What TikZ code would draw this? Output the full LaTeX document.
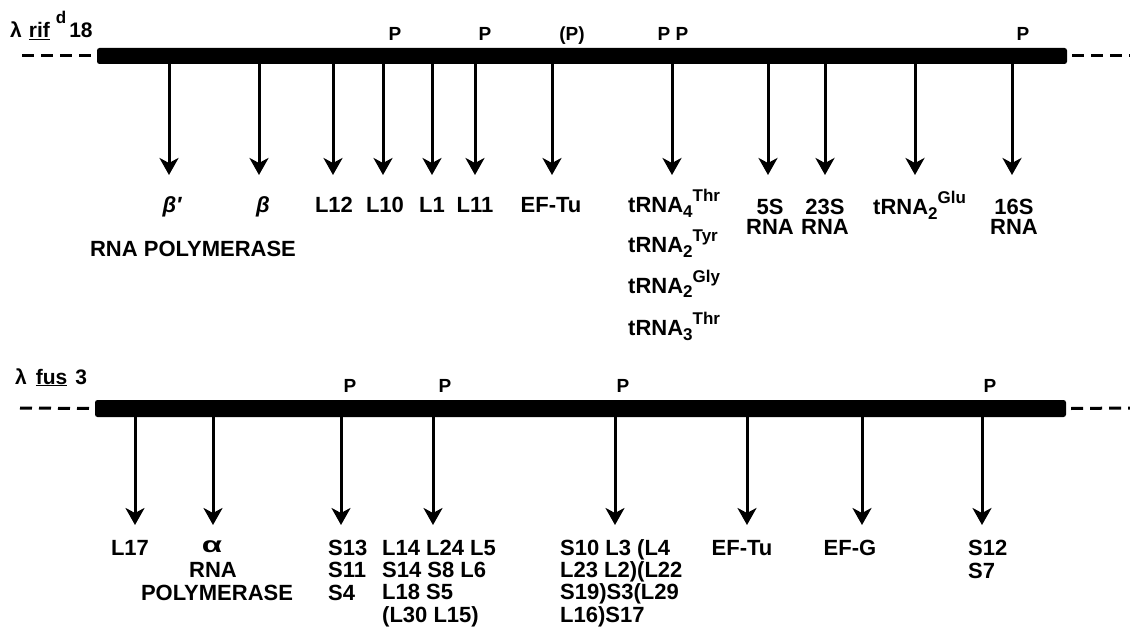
\documentclass[tikz,border=0pt]{standalone}
\usepackage{fontspec}
\usepackage{graphicx}
\setmainfont{Liberation Sans}
\usetikzlibrary{arrows.meta}
\newcommand\trnalab[2]{tRNA\raisebox{-5pt}{\fontsize{17}{17}\selectfont #1}\raisebox{11pt}{\fontsize{17}{17}\selectfont #2}}
\begin{document}
\begin{tikzpicture}[x=1pt,y=-1pt,
  lbl/.style={font=\fontsize{22}{22}\selectfont\bfseries, inner sep=0pt, anchor=base},
  lblw/.style={lbl, anchor=base west, align=left},
  plab/.style={font=\fontsize{19}{20}\selectfont\bfseries, inner sep=0pt, anchor=base},
  ttl/.style={font=\fontsize{21}{21}\selectfont\bfseries, inner sep=0pt, anchor=base west},
  gene/.style={line width=3pt, -{Stealth[length=17pt,width=19pt,inset=5pt]}},
  chrom/.style={fill=black, draw=none, rounded corners=2.5pt, inner sep=0pt},
  ext/.style={line width=3pt, dash pattern=on 12pt off 7pt}]
\useasboundingbox (0,0) rectangle (1130,631);

% ---------------- top map ----------------
\node[chrom, minimum width=970pt, minimum height=16pt] (bar1) at (582,56) {};
\coordinate (d1l) at (22,56);
\coordinate (d1r) at (1130,56);
\draw[ext] (d1l) -- ([xshift=-4pt]bar1.west);
\draw[ext] ([xshift=5pt]bar1.east) -- (d1r);

\node[ttl] (title1) at (10,38) {λ\hspace{7pt}\underline{rif}\hspace{6pt}\raisebox{14pt}{\fontsize{17}{17}\selectfont d}\hspace{3pt}18};

\foreach \n/\x in {1/169,2/259,3/333,4/383,5/432,6/475,7/552,8/672,9/768,10/825,11/915,12/1012}{
  \coordinate (ta\n) at (\x,175);
  \draw[gene] (bar1.south -| ta\n) -- (ta\n);
}

\node[plab] (p1) at (395,41) {P};
\node[plab] (p2) at (485,41) {P};
\node[plab] (p3) at (572,41) {(P)};
\node[plab] (p4) at (673,41) {P P};
\node[plab] (p5) at (1023,41) {P};

\node[lbl] (bp) at (172,213) {\itshape β′};
\node[lbl] (b) at (263,213) {\itshape β};
\node[lbl] (rnap1) at (193,257) {RNA POLYMERASE};
\node[lbl] (l12) at (334,213) {L12};
\node[lbl] (l10) at (385,213) {L10};
\node[lbl] (l1) at (432,213) {L1};
\node[lbl] (l11) at (475,213) {L11};
\node[lbl] (eftu1) at (551,213) {EF-Tu};
\node[lblw] (tr1) at (628,213) {\trnalab{4}{Thr}};
\node[lblw] (tr2) at (628,253) {\trnalab{2}{Tyr}};
\node[lblw] (tr3) at (628,293) {\trnalab{2}{Gly}};
\node[lblw] (tr4) at (628,335) {\trnalab{3}{Thr}};
% multi-line labels: the base anchor is the baseline of the last line
\node[lbl, align=center, font=\fontsize{22}{20}\selectfont\bfseries] (s5) at (770,235) {5S\\RNA};
\node[lbl, align=center, font=\fontsize{22}{20}\selectfont\bfseries] (s23) at (825,235) {23S\\RNA};
\node[lblw] (tr5) at (873,215) {\trnalab{2}{Glu}};
\node[lbl, align=center, font=\fontsize{22}{20}\selectfont\bfseries] (s16) at (1014,235) {16S\\RNA};

% ---------------- bottom map ----------------
\node[chrom, minimum width=971pt, minimum height=17pt] (bar2) at (580.5,408.5) {};
\coordinate (d2l) at (20,408);
\coordinate (d2r) at (1130,408);
\draw[ext] (d2l) -- ([xshift=-4pt]bar2.west);
\draw[ext] ([xshift=5pt]bar2.east) -- (d2r);

\node[ttl] (title2) at (15,384) {λ\hspace{9pt}\underline{fus}\hspace{8pt}3};

\foreach \n/\x in {1/135,2/213,3/341,4/433,5/615,6/747,7/862,8/982}{
  \coordinate (ba\n) at (\x,525);
  \draw[gene] (bar2.south -| ba\n) -- (ba\n);
}

\node[plab] (q1) at (350,392) {P};
\node[plab] (q2) at (445,392) {P};
\node[plab] (q3) at (623,392) {P};
\node[plab] (q4) at (990,392) {P};

\node[lbl] (l17) at (130,555) {L17};
\node[lbl] (alpha) at (212,552) {\scalebox{1.5}[1]{α}};
\node[lbl] (rna2) at (213,577) {RNA};
\node[lbl] (pol2) at (217,600) {POLYMERASE};
\node[lblw, font=\fontsize{22}{22.5}\selectfont\bfseries] (c1) at (328,600) {S13\\S11\\S4};
\node[lblw, font=\fontsize{22}{22.3}\selectfont\bfseries] (c2) at (382,622) {L14 L24 L5\\S14 S8 L6\\L18 S5\\(L30 L15)};
\node[lblw, font=\fontsize{22}{22.3}\selectfont\bfseries] (c3) at (560,622) {S10 L3 (L4\\L23 L2)(L22\\S19)S3(L29\\L16)S17};
\node[lbl] (eftu2) at (742,555) {EF-Tu};
\node[lbl] (efg) at (850,555) {EF-G};
\node[lblw, font=\fontsize{22}{23}\selectfont\bfseries] (c4) at (968,578) {S12\\S7};
\end{tikzpicture}
\end{document}
